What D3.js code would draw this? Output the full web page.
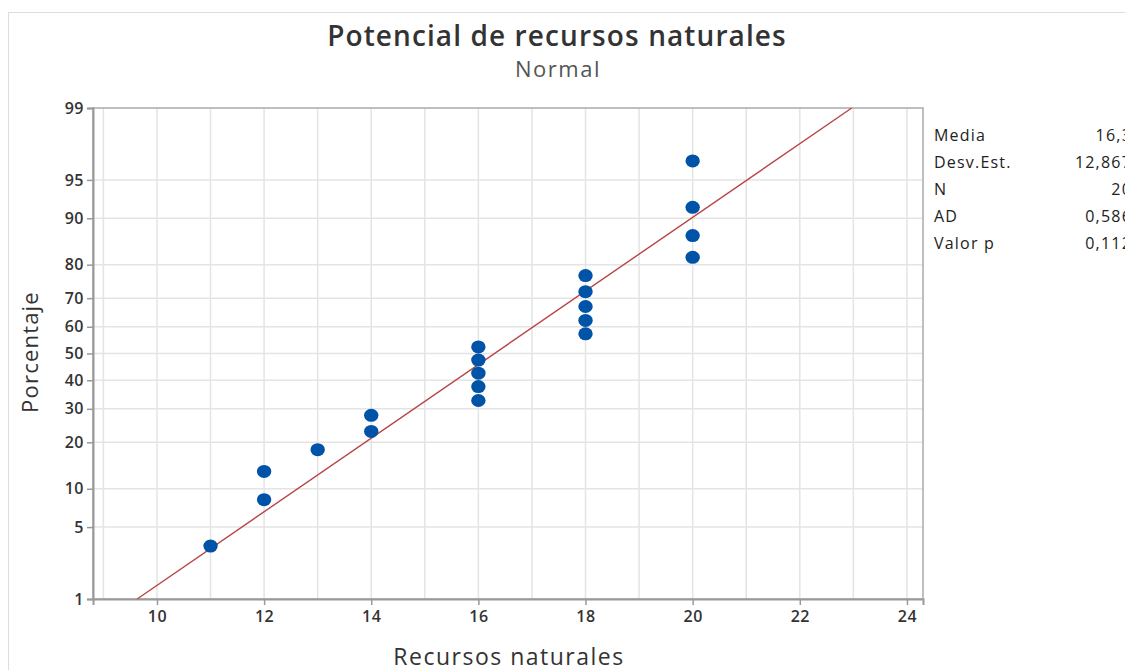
<!DOCTYPE html>
<html>
<head>
<meta charset="utf-8">
<script src="https://cdn.jsdelivr.net/npm/d3@7"></script>
<style>
  html, body { margin: 0; padding: 0; background: #fff; overflow: hidden; }
  svg { display: block; font-family: "Open Sans", "Noto Sans", sans-serif; }
</style>
</head>
<body>
<div id="chart"></div>
<script>
// datos
const xValues = [11, 12, 12, 13, 14, 14, 16, 16, 16, 16, 16, 18, 18, 18, 18, 18, 20, 20, 20, 20];
const pctValues = [3.4, 8.3, 13.2, 18.1, 23.0, 27.9, 32.8, 37.7, 42.6, 47.5, 52.5, 57.4, 62.3, 67.2, 72.1, 77.0, 81.9, 86.8, 91.7, 96.6];
const yTicks = [1, 5, 10, 20, 30, 40, 50, 60, 70, 80, 90, 95, 99];
const xTicks = [10, 12, 14, 16, 18, 20, 22, 24];
const xGrid = [9, 10, 11, 12, 13, 14, 15, 16, 17, 18, 19, 20, 21, 22, 23, 24];
const fitMean = 16.3, fitSd = 2.867;
const statLabels = ['Media', 'Desv.Est.', 'N', 'AD', 'Valor p'];
const statValues = ['16,3', '12,867', '20', '0,586', '0,112'];

const W = 1125, H = 670;
const M = { left: 93, right: 923, top: 108, bottom: 599 };
const C = { ink: '#333', axis: '#999', grid: '#e4e4e4', dot: '#0053a6', fit: '#b84545' };

// inverse normal cdf (Acklam)
function probit(p) {
  const a = [-39.6968302866538, 220.946098424521, -275.928510446969, 138.357751867269, -30.6647980661472, 2.50662827745924];
  const b = [-54.4760987982241, 161.585836858041, -155.698979859887, 66.8013118877197, -13.2806815528857];
  const c = [-0.00778489400243029, -0.322396458041136, -2.40075827716184, -2.54973253934373, 4.37466414146497, 2.93816398269878];
  const d = [0.00778469570904146, 0.32246712907004, 2.445134137143, 3.75440866190742];
  const pl = 0.02425;
  let q, r;
  if (p < pl) {
    q = Math.sqrt(-2 * Math.log(p));
    return (((((c[0]*q+c[1])*q+c[2])*q+c[3])*q+c[4])*q+c[5]) / ((((d[0]*q+d[1])*q+d[2])*q+d[3])*q+1);
  }
  if (p > 1 - pl) {
    q = Math.sqrt(-2 * Math.log(1 - p));
    return -(((((c[0]*q+c[1])*q+c[2])*q+c[3])*q+c[4])*q+c[5]) / ((((d[0]*q+d[1])*q+d[2])*q+d[3])*q+1);
  }
  q = p - 0.5; r = q * q;
  return (((((a[0]*r+a[1])*r+a[2])*r+a[3])*r+a[4])*r+a[5])*q / (((((b[0]*r+b[1])*r+b[2])*r+b[3])*r+b[4])*r+1);
}

const svg = d3.select('#chart').append('svg').attr('width', W).attr('height', H);

const x = d3.scaleLinear().domain([8.806, 24.3]).range([M.left, M.right]);
const yz = d3.scaleLinear().domain([probit(0.01), probit(0.99)]).range([M.bottom, M.top]);
const y = p => yz(probit(p / 100));

// marco exterior
svg.append('rect').attr('x', 8.5).attr('y', 12.5).attr('width', W).attr('height', H)
  .attr('fill', 'none').attr('stroke', '#ddd');

// rejilla
svg.append('g').selectAll('line').data(xGrid).join('line')
  .attr('x1', d => x(d)).attr('x2', d => x(d)).attr('y1', M.top).attr('y2', M.bottom)
  .attr('stroke', C.grid).attr('stroke-width', 1.5);
svg.append('g').selectAll('line').data(yTicks.slice(1, -1)).join('line')
  .attr('x1', M.left).attr('x2', M.right).attr('y1', d => y(d)).attr('y2', d => y(d))
  .attr('stroke', C.grid).attr('stroke-width', 1.5);

// borde del área
svg.append('rect').attr('x', M.left).attr('y', M.top)
  .attr('width', M.right - M.left).attr('height', M.bottom - M.top)
  .attr('fill', 'none').attr('stroke', '#aaa').attr('stroke-width', 1.5);

// ejes
const gy = svg.append('g').attr('transform', `translate(${M.left},0)`)
  .call(d3.axisLeft(yz).tickValues(yTicks.map(p => probit(p / 100))).tickFormat((d, i) => yTicks[i]).tickSize(6).tickPadding(3));
const gx = svg.append('g').attr('transform', `translate(0,${M.bottom})`)
  .call(d3.axisBottom(x).tickValues(xTicks).tickSize(6).tickPadding(6));
[gy, gx].forEach(g => {
  g.select('.domain').attr('stroke', C.axis).attr('stroke-width', 2);
  g.selectAll('.tick line').attr('stroke', C.axis).attr('stroke-width', 1.5);
  g.selectAll('.tick text').attr('fill', C.ink).attr('font-size', 16).attr('font-weight', 600)
    .attr('letter-spacing', 0.5).attr('font-family', '"Open Sans", sans-serif');
});

// recta ajustada
const zLo = probit(0.01), zHi = probit(0.99);
svg.append('line')
  .attr('x1', x(fitMean + zLo * fitSd)).attr('y1', yz(zLo))
  .attr('x2', x(fitMean + zHi * fitSd)).attr('y2', yz(zHi))
  .attr('stroke', C.fit).attr('stroke-width', 1.4);

// puntos
svg.append('g').selectAll('ellipse').data(xValues).join('ellipse')
  .attr('cx', d => x(d)).attr('cy', (d, i) => y(pctValues[i])).attr('rx', 7.2).attr('ry', 6.5)
  .attr('fill', C.dot);

// títulos
svg.append('text').attr('x', 557).attr('y', 46).attr('text-anchor', 'middle')
  .attr('font-size', 28).attr('font-weight', 600).attr('letter-spacing', 1.1).attr('fill', C.ink)
  .text('Potencial de recursos naturales');
svg.append('text').attr('x', 558).attr('y', 77).attr('text-anchor', 'middle')
  .attr('font-size', 22).attr('letter-spacing', 1.5).attr('fill', '#555').text('Normal');
svg.append('text').attr('x', 509).attr('y', 665).attr('text-anchor', 'middle')
  .attr('font-size', 23).attr('letter-spacing', 1.5).attr('fill', C.ink).text('Recursos naturales');
svg.append('text').attr('transform', 'translate(38,352) rotate(-90)').attr('text-anchor', 'middle')
  .attr('font-size', 22).attr('letter-spacing', 1.2).attr('fill', C.ink).text('Porcentaje');

// tabla de estadísticos
const stats = svg.append('g').attr('font-size', 16).attr('fill', '#222');
stats.selectAll('.lab').data(statLabels).join('text').attr('class', 'lab')
  .attr('x', 934).attr('y', (d, i) => 141 + i * 27).attr('letter-spacing', 1.2).text(d => d);
stats.selectAll('.val').data(statValues).join('text').attr('class', 'val')
  .attr('x', 1132).attr('y', (d, i) => 141 + i * 27).attr('text-anchor', 'end')
  .attr('letter-spacing', 1.2).text(d => d);
</script>
</body>
</html>
